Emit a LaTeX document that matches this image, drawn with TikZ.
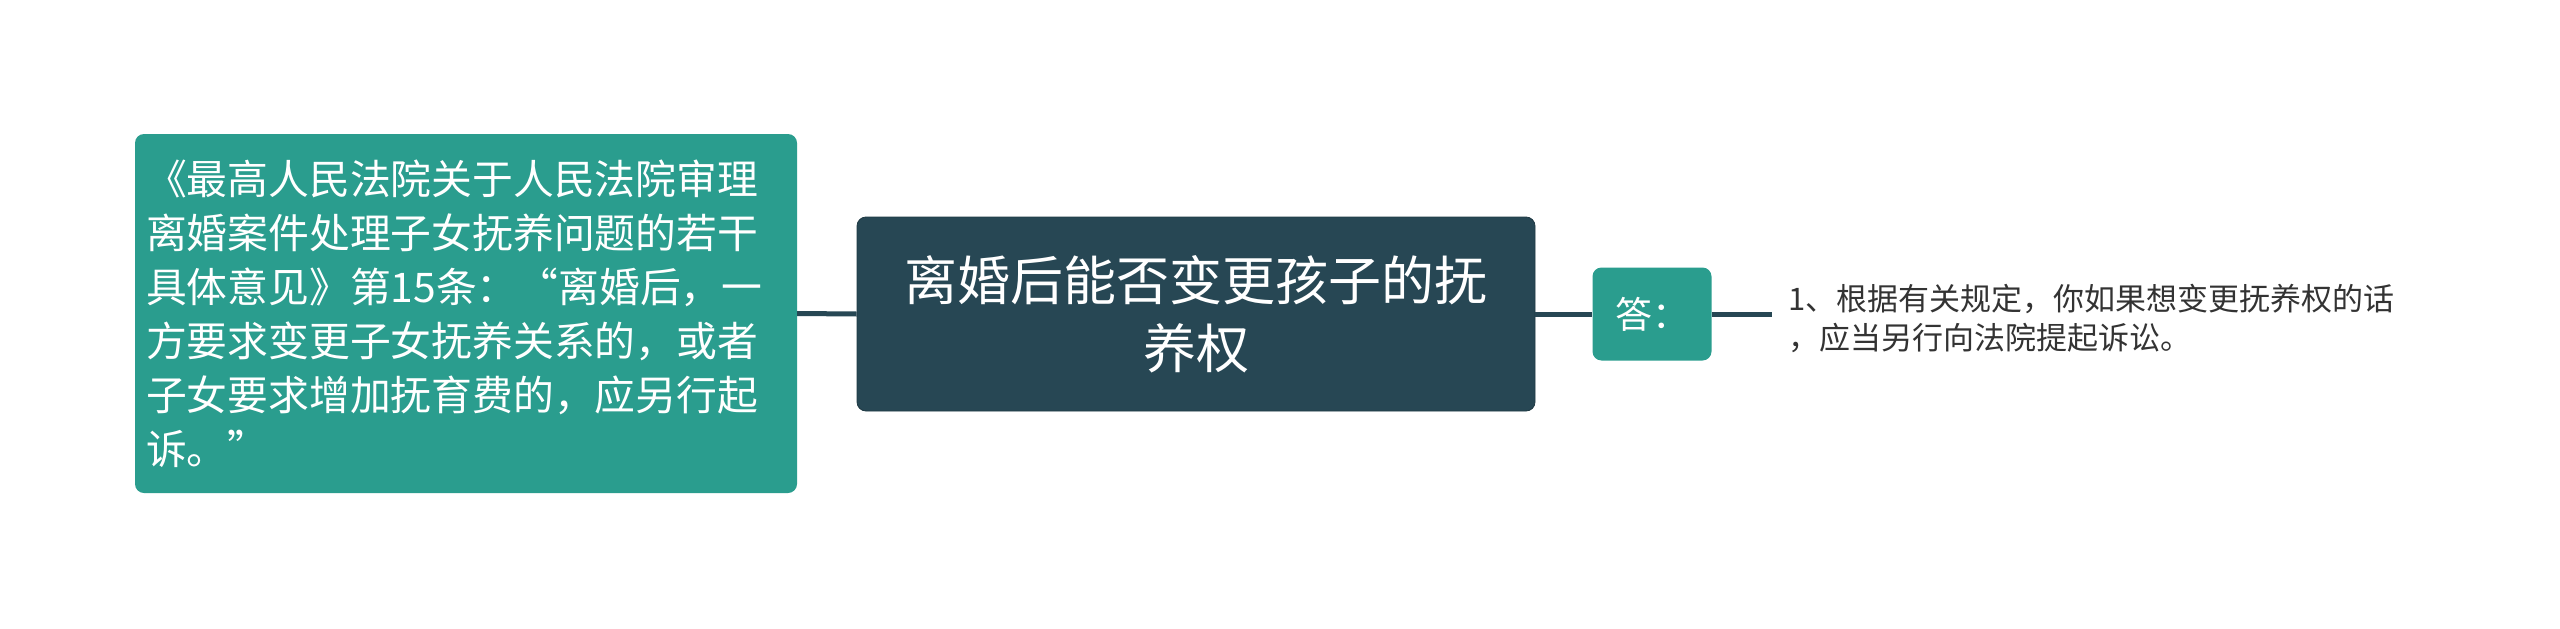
\documentclass[tikz,border=0pt]{standalone}
\usepackage{fontspec}
\setmainfont{Noto Sans CJK SC}
\definecolor{teal1}{HTML}{2A9D8E}
\definecolor{dark1}{HTML}{274754}
\definecolor{txt1}{HTML}{333333}
\begin{document}
\begin{tikzpicture}[x=1pt,y=-1pt,
  sidebox/.style={fill=teal1,rounded corners=9pt,text=white,inner sep=0pt},
  rootbox/.style={fill=dark1,rounded corners=9pt,text=white,inner sep=0pt,draw=dark1!80!black,line width=0.8pt},
  link/.style={draw=dark1,line width=5pt}]
\useasboundingbox[fill=white] (0,0) rectangle (2560,629);
\node[sidebox,minimum width=662pt,minimum height=359pt,text width=640pt,align=left,
  font=\fontsize{40.8pt}{54pt}\selectfont] (left) at (466,313.5)
  {《最高人民法院关于人民法院审理\\离婚案件处理子女抚养问题的若干\\具体意见》第15条：“离婚后，一\\方要求变更子女抚养关系的，或者\\子女要求增加抚育费的，应另行起\\诉。”};
\node[rootbox,minimum width=678pt,minimum height=194pt,align=center,
  font=\fontsize{53pt}{68pt}\selectfont] (root) at (1196,314)
  {离婚后能否变更孩子的抚\\养权};
\node[sidebox,minimum width=119pt,minimum height=93pt,
  font=\fontsize{37pt}{44pt}\selectfont] (ans) at (1652,314) {答：};
\coordinate (end) at (1772,314);
\node[anchor=west,align=left,text=txt1,inner sep=0pt,
  font=\fontsize{31pt}{39pt}\selectfont] (detail) at (1788,318)
  {1、根据有关规定，你如果想变更抚养权的话\\，应当另行向法院提起诉讼。};
\draw[link] (left.east) -- (root.west);
\draw[link] (root.east) -- (ans.west);
\draw[link] (ans.east) -- (end);
\end{tikzpicture}
\end{document}
